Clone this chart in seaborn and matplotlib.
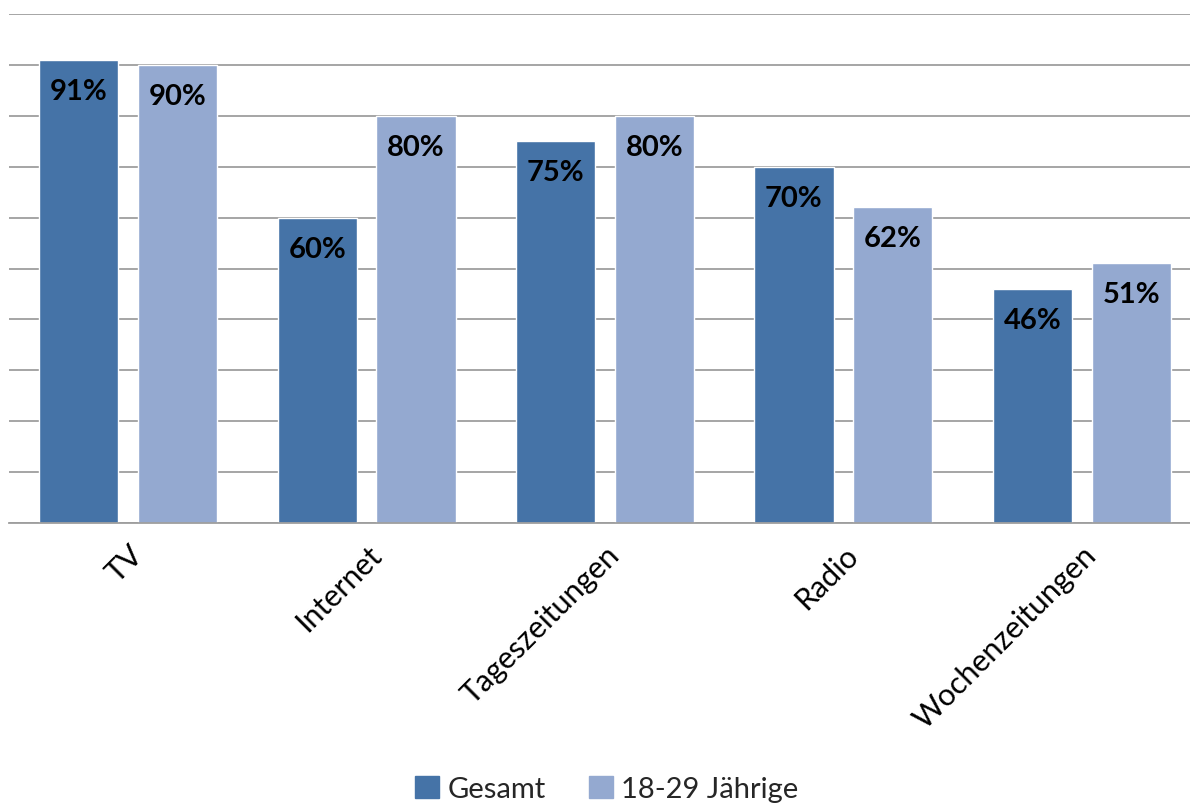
import numpy as np
import pandas as pd
import matplotlib
matplotlib.use("Agg")
import matplotlib.pyplot as plt
import seaborn as sns

# -----------------------------------------------------------------------------
# DATA
# -----------------------------------------------------------------------------

categories = ["TV", "Internet", "Tageszeitungen", "Radio", "Wochenzeitungen"]
gesamt = [91, 60, 75, 70, 46]
jung = [90, 80, 80, 62, 51]
series_names = ["Gesamt", "18-29 Jährige"]
colors = ["#4573A7", "#94A9D0"]

df = pd.DataFrame({
    "Medium": categories * 2,
    "Gruppe": [series_names[0]] * len(categories) + [series_names[1]] * len(categories),
    "Wert": gesamt + jung,
})

# -----------------------------------------------------------------------------
# PLOT
# -----------------------------------------------------------------------------

sns.set_theme(style="white")
plt.rcParams["font.family"] = ["Lato", "DejaVu Sans"]

W, H = 1190, 804
fig = plt.figure(figsize=(W / 100, H / 100), dpi=100)
ax = fig.add_axes([9 / W, (H - 524) / H, 1192 / W, 509 / H])

sns.barplot(data=df, x="Medium", y="Wert", hue="Gruppe", order=categories,
            hue_order=series_names, palette=colors, width=0.83, gap=0.2,
            saturation=1, ax=ax, legend=False)

ax.set_ylim(0, 100)
ax.set_yticks(np.arange(0, 101, 10))
ax.set_yticklabels([])
ax.tick_params(axis="y", length=0)
ax.tick_params(axis="x", length=0, pad=12)
ax.yaxis.grid(True, color="#9e9e9e", linewidth=1.3)
ax.set_axisbelow(True)
for side in ["left", "right", "top"]:
    ax.spines[side].set_visible(False)
ax.spines["bottom"].set_color("#9e9e9e")
ax.spines["bottom"].set_linewidth(1.3)
ax.set_xlabel("")
ax.set_ylabel("")

ax.set_xticks(range(len(categories)))
ax.set_xticklabels(categories, rotation=45, ha="right", rotation_mode="anchor",
                   fontsize=22, color="black")

# data labels inside bars near top
for container in ax.containers:
    for bar in container:
        h = bar.get_height()
        ax.annotate(f"{h:.0f}%", (bar.get_x() + bar.get_width() / 2, h),
                    xytext=(0, -31), textcoords="offset pixels",
                    ha="center", va="center", fontsize=21, fontweight="bold",
                    color="black")

handles = [plt.Rectangle((0, 0), 1, 1, color=c) for c in colors]
fig.legend(handles, series_names, loc="center", bbox_to_anchor=(607 / W, 1 - 790 / H),
           ncol=2, frameon=False, fontsize=21, handlelength=0.8, handleheight=0.8,
           handletextpad=0.3, columnspacing=1.5)

fig.savefig("out.png", dpi=100)
